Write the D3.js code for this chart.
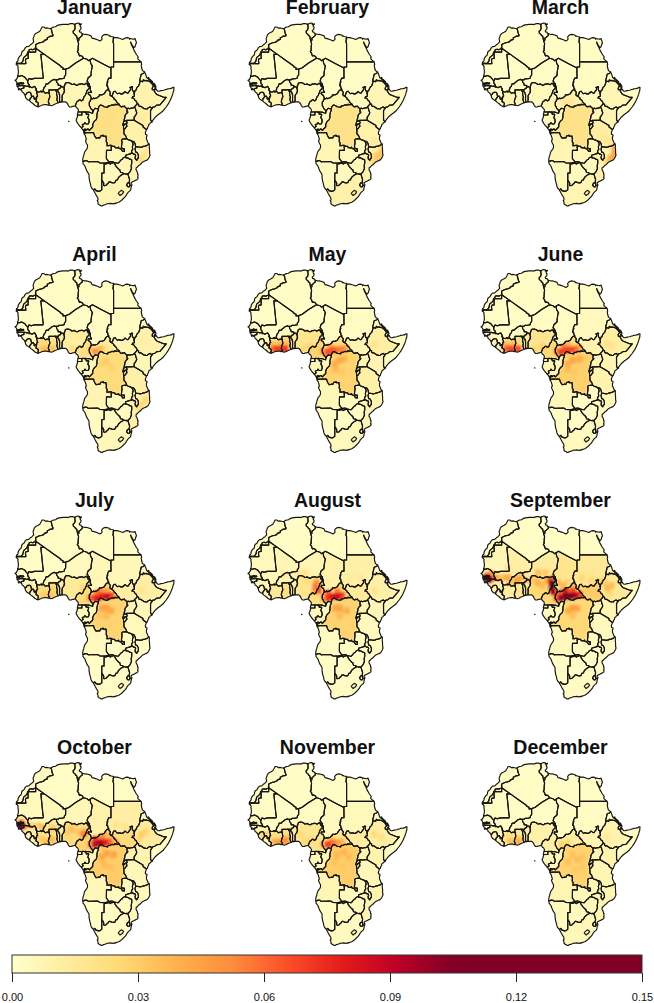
<!DOCTYPE html>
<html><head><meta charset="utf-8">
<script src="https://cdn.jsdelivr.net/npm/d3@7/dist/d3.min.js"></script>
<style>html,body{margin:0;padding:0;background:#fff;overflow:hidden}svg{display:block}</style>
</head><body><svg id="c" width="654" height="1003"></svg>
<script>
// ---------- country outlines (lon, lat) ----------
const algeria=[[12,23.47],[8.57,21.57],[5.68,19.6],[4.27,19.16],[3.16,19.06],[3.15,19.69],[2.68,19.86],[1.82,20.61],[-1.55,22.79],[-4.92,24.97],[-8.68,27.4],[-8.67,27.59],[-8.67,27.66],[-8.67,28.84],[-7.06,29.58],[-6.06,29.73],[-5.24,30],[-4.86,30.5],[-3.69,30.9],[-3.65,31.64],[-3.07,31.72],[-2.62,32.09],[-1.31,32.26],[-1.12,32.65],[-1.39,32.86],[-1.73,33.92],[-1.79,34.53],[-2.17,35.17],[-1.21,35.71],[-0.13,35.89],[0.5,36.3],[1.47,36.61],[3.16,36.78],[4.82,36.87],[5.32,36.72],[6.26,37.11],[7.33,37.12],[7.74,36.89],[8.42,36.95],[8.22,36.43],[8.38,35.48],[8.14,34.66],[7.52,34.1],[7.61,33.34],[8.43,32.75],[8.44,32.51],[9.06,32.1],[9.48,30.31],[9.81,29.42],[9.86,28.96],[9.68,28.14],[9.76,27.69],[9.63,27.14],[9.72,26.51],[9.32,26.09],[9.91,25.37],[9.95,24.94],[10.3,24.38],[10.77,24.56],[11.56,24.1],[12,23.47]];
const angola=[[16.33,-5.88],[16.57,-6.62],[16.86,-7.22],[17.09,-7.55],[17.47,-8.07],[18.13,-7.99],[18.46,-7.85],[19.02,-7.99],[19.17,-7.74],[19.42,-7.16],[20.04,-7.12],[20.09,-6.94],[20.6,-6.94],[20.51,-7.3],[21.73,-7.29],[21.75,-7.92],[21.95,-8.31],[21.8,-8.91],[21.88,-9.52],[22.21,-9.89],[22.16,-11.08],[22.4,-10.99],[22.84,-11.02],[23.46,-10.87],[23.91,-10.93],[24.02,-11.24],[23.9,-11.72],[24.08,-12.19],[23.93,-12.57],[24.02,-12.91],[21.93,-12.9],[21.89,-16.08],[22.56,-16.9],[23.22,-17.52],[21.38,-17.93],[18.96,-17.79],[18.26,-17.31],[14.21,-17.35],[14.06,-17.42],[13.46,-16.97],[12.81,-16.94],[12.22,-17.11],[11.73,-17.3],[11.64,-16.67],[11.78,-15.79],[12.12,-14.88],[12.18,-14.45],[12.5,-13.55],[12.74,-13.14],[13.31,-12.48],[13.63,-12.04],[13.74,-11.3],[13.69,-10.73],[13.39,-10.37],[13.12,-9.77],[12.88,-9.17],[12.93,-8.96],[13.24,-8.56],[12.93,-7.6],[12.73,-6.93],[12.23,-6.29],[12.32,-6.1],[12.74,-5.97],[13.02,-5.98],[13.38,-5.86],[16.33,-5.88]];
const cabinda=[[12.44,-5.68],[12.18,-5.79],[11.91,-5.04],[12.32,-4.61],[12.62,-4.44],[13,-4.78],[12.63,-4.99],[12.47,-5.25],[12.44,-5.68]];
const benin=[[2.69,6.26],[1.87,6.14],[1.62,6.83],[1.66,9.13],[1.46,9.33],[1.43,9.83],[1.08,10.18],[0.77,10.47],[0.9,11],[1.24,11.11],[1.45,11.55],[1.94,11.64],[2.15,11.94],[2.49,12.23],[2.85,12.24],[3.61,11.66],[3.57,11.33],[3.8,10.73],[3.6,10.33],[3.71,10.06],[3.22,9.44],[2.91,9.14],[2.72,8.51],[2.75,7.87],[2.69,6.26]];
const botswana=[[25.65,-18.54],[25.85,-18.71],[26.16,-19.29],[27.3,-20.39],[27.72,-20.5],[27.73,-20.85],[28.02,-21.49],[28.79,-21.64],[29.43,-22.09],[28.02,-22.83],[27.12,-23.57],[26.79,-24.24],[26.49,-24.62],[25.94,-24.7],[25.77,-25.17],[25.66,-25.49],[25.03,-25.72],[24.21,-25.67],[23.73,-25.39],[23.31,-25.27],[22.82,-25.5],[22.58,-25.98],[22.11,-26.28],[21.61,-26.73],[20.89,-26.83],[20.67,-26.48],[20.76,-25.87],[20.17,-24.92],[19.9,-24.77],[19.9,-21.85],[20.88,-21.81],[20.91,-18.25],[21.66,-18.22],[23.2,-17.87],[23.58,-18.28],[24.22,-17.89],[24.52,-17.89],[25.08,-17.66],[25.26,-17.74],[25.65,-18.54]];
const burkina=[[-2.83,9.64],[-3.51,9.9],[-3.98,9.86],[-4.33,9.61],[-4.78,9.82],[-4.95,10.15],[-5.4,10.37],[-5.47,10.95],[-5.2,11.38],[-5.22,11.71],[-4.43,12.54],[-4.28,13.23],[-4.01,13.47],[-3.52,13.34],[-3.1,13.54],[-2.97,13.8],[-2.19,14.25],[-2,14.56],[-1.07,14.97],[-0.52,15.12],[-0.27,14.92],[0.37,14.93],[0.3,14.44],[0.43,13.99],[0.99,13.34],[1.02,12.85],[2.18,12.63],[2.15,11.94],[1.94,11.64],[1.45,11.55],[1.24,11.11],[0.9,11],[0.02,11.02],[-0.44,11.1],[-0.76,10.94],[-1.2,11.01],[-2.94,10.96],[-2.96,10.4],[-2.83,9.64]];
const burundi=[[29.34,-4.5],[29.28,-3.29],[29.02,-2.84],[29.63,-2.92],[29.94,-2.35],[30.47,-2.41],[30.53,-2.81],[30.74,-3.03],[30.75,-3.36],[30.51,-3.57],[30.12,-4.09],[29.75,-4.45],[29.34,-4.5]];
const cameroon=[[14.5,12.86],[14.89,12.22],[14.96,11.56],[14.92,10.89],[15.47,9.98],[14.91,9.99],[14.63,9.92],[14.17,10.02],[13.95,9.55],[14.54,8.97],[14.98,8.8],[15.12,8.38],[15.44,7.69],[15.28,7.42],[14.78,6.41],[14.54,6.23],[14.46,5.45],[14.56,5.03],[14.48,4.73],[14.95,4.21],[15.04,3.85],[15.41,3.34],[15.86,3.01],[15.91,2.56],[16.01,2.27],[15.94,1.73],[15.15,1.96],[14.34,2.23],[13.08,2.27],[12.95,2.32],[12.36,2.19],[11.75,2.33],[11.28,2.26],[9.65,2.28],[9.8,3.07],[9.4,3.73],[8.95,3.9],[8.74,4.35],[8.49,4.5],[8.5,4.77],[8.76,5.48],[9.23,6.44],[9.52,6.45],[10.12,7.04],[10.5,7.06],[11.06,6.64],[11.75,6.98],[11.84,7.4],[12.06,7.8],[12.22,8.31],[12.75,8.72],[12.96,9.42],[13.17,9.64],[13.31,10.16],[13.57,10.8],[14.42,11.57],[14.47,11.9],[14.58,12.09],[14.18,12.48],[14.21,12.8],[14.5,12.86]];
const car=[[15.28,7.42],[16.11,7.5],[16.29,7.75],[16.46,7.73],[16.71,7.51],[17.96,7.89],[18.39,8.28],[18.91,8.63],[18.81,8.98],[19.09,9.07],[20.06,9.01],[21,9.48],[21.72,10.57],[22.23,10.97],[22.86,11.14],[22.98,10.71],[23.55,10.09],[23.56,9.68],[23.39,9.27],[23.46,8.95],[23.81,8.67],[24.57,8.23],[25.11,7.83],[25.12,7.5],[25.8,6.98],[26.21,6.55],[26.47,5.95],[27.21,5.55],[27.37,5.23],[27.04,5.13],[26.4,5.15],[25.65,5.26],[25.28,5.17],[25.13,4.93],[24.81,4.9],[24.41,5.11],[23.3,4.61],[22.84,4.71],[22.7,4.63],[22.41,4.03],[21.66,4.22],[20.93,4.32],[20.29,4.69],[19.47,5.03],[18.93,4.71],[18.54,4.2],[18.45,3.5],[17.81,3.56],[17.13,3.73],[16.54,3.2],[16.01,2.27],[15.91,2.56],[15.86,3.01],[15.41,3.34],[15.04,3.85],[14.95,4.21],[14.48,4.73],[14.56,5.03],[14.46,5.45],[14.54,6.23],[14.78,6.41],[15.28,7.42]];
const chad=[[14.5,12.86],[14.6,13.33],[13.95,13.35],[13.96,14],[13.54,14.37],[13.97,15.68],[15.25,16.63],[15.3,17.93],[15.69,19.96],[15.9,20.39],[15.49,20.73],[15.47,21.05],[15.1,21.31],[14.85,22.86],[15.86,23.41],[19.85,21.5],[23.84,19.58],[23.89,15.61],[23.02,15.68],[22.57,14.94],[22.3,14.33],[22.51,14.09],[22.18,13.79],[22.3,13.37],[22.04,12.96],[21.94,12.59],[22.29,12.65],[22.5,12.26],[22.51,11.68],[22.88,11.38],[22.86,11.14],[22.23,10.97],[21.72,10.57],[21,9.48],[20.06,9.01],[19.09,9.07],[18.81,8.98],[18.91,8.63],[18.39,8.28],[17.96,7.89],[16.71,7.51],[16.46,7.73],[16.29,7.75],[16.11,7.5],[15.28,7.42],[15.44,7.69],[15.12,8.38],[14.98,8.8],[14.54,8.97],[13.95,9.55],[14.17,10.02],[14.63,9.92],[14.91,9.99],[15.47,9.98],[14.92,10.89],[14.96,11.56],[14.89,12.22],[14.5,12.86]];
const congo=[[13,-4.78],[12.62,-4.44],[12.32,-4.61],[11.91,-5.04],[11.09,-3.98],[11.86,-3.43],[11.48,-2.77],[11.82,-2.51],[12.5,-2.39],[12.58,-1.95],[13.11,-2.43],[13.99,-2.47],[14.3,-2],[14.43,-1.33],[14.32,-0.55],[13.84,0.04],[14.28,1.2],[14.03,1.4],[13.28,1.31],[13,1.83],[13.08,2.27],[14.34,2.23],[15.15,1.96],[15.94,1.73],[16.01,2.27],[16.54,3.2],[17.13,3.73],[17.81,3.56],[18.45,3.5],[18.39,2.9],[18.09,2.37],[17.9,1.74],[17.77,0.86],[17.83,0.29],[17.66,-0.06],[17.64,-0.42],[17.52,-0.74],[16.87,-1.23],[16.41,-1.74],[15.97,-2.71],[16.01,-3.54],[15.75,-3.86],[15.17,-4.34],[14.58,-4.97],[14.21,-4.79],[14.14,-4.51],[13.6,-4.5],[13.26,-4.88],[13,-4.78]];
const drc=[[30.83,3.51],[30.77,2.34],[31.17,2.2],[30.85,1.85],[30.47,1.58],[30.09,1.06],[29.88,0.6],[29.82,-0.21],[29.59,-0.59],[29.58,-1.34],[29.29,-1.62],[29.25,-2.22],[29.12,-2.29],[29.02,-2.84],[29.28,-3.29],[29.34,-4.5],[29.52,-5.42],[29.42,-5.94],[29.62,-6.52],[30.2,-7.08],[30.74,-8.34],[30.35,-8.24],[29,-8.41],[28.73,-8.53],[28.45,-9.16],[28.67,-9.61],[28.5,-10.79],[28.37,-11.79],[28.64,-11.97],[29.34,-12.36],[29.62,-12.18],[29.7,-13.26],[28.93,-13.25],[28.52,-12.7],[28.16,-12.27],[27.39,-12.13],[27.16,-11.61],[26.55,-11.92],[25.75,-11.78],[25.42,-11.33],[24.78,-11.24],[24.31,-11.26],[24.26,-10.95],[23.91,-10.93],[23.46,-10.87],[22.84,-11.02],[22.4,-10.99],[22.16,-11.08],[22.21,-9.89],[21.88,-9.52],[21.8,-8.91],[21.95,-8.31],[21.75,-7.92],[21.73,-7.29],[20.51,-7.3],[20.6,-6.94],[20.09,-6.94],[20.04,-7.12],[19.42,-7.16],[19.17,-7.74],[19.02,-7.99],[18.46,-7.85],[18.13,-7.99],[17.47,-8.07],[17.09,-7.55],[16.86,-7.22],[16.57,-6.62],[16.33,-5.88],[13.38,-5.86],[13.02,-5.98],[12.74,-5.97],[12.32,-6.1],[12.18,-5.79],[12.44,-5.68],[12.47,-5.25],[12.63,-4.99],[13,-4.78],[13.26,-4.88],[13.6,-4.5],[14.14,-4.51],[14.21,-4.79],[14.58,-4.97],[15.17,-4.34],[15.75,-3.86],[16.01,-3.54],[15.97,-2.71],[16.41,-1.74],[16.87,-1.23],[17.52,-0.74],[17.64,-0.42],[17.66,-0.06],[17.83,0.29],[17.77,0.86],[17.9,1.74],[18.09,2.37],[18.39,2.9],[18.45,3.5],[18.54,4.2],[18.93,4.71],[19.47,5.03],[20.29,4.69],[20.93,4.32],[21.66,4.22],[22.41,4.03],[22.7,4.63],[22.84,4.71],[23.3,4.61],[24.41,5.11],[24.81,4.9],[25.13,4.93],[25.28,5.17],[25.65,5.26],[26.4,5.15],[27.04,5.13],[27.37,5.23],[27.98,4.41],[28.43,4.29],[28.7,4.46],[29.16,4.39],[29.72,4.6],[29.95,4.17],[30.83,3.51]];
const djibouti=[[43.08,12.7],[43.32,12.39],[43.29,11.97],[42.72,11.74],[43.15,11.46],[42.78,10.93],[42.55,11.11],[42.31,11.03],[41.76,11.05],[41.74,11.36],[41.66,11.63],[42,12.1],[42.35,12.54],[42.78,12.46],[43.08,12.7]];
const egypt=[[36.87,22],[32.9,22],[29.02,22],[25,22],[25,25.68],[25,29.24],[24.7,30.04],[24.96,30.66],[24.8,31.09],[25.16,31.57],[26.5,31.59],[27.46,31.32],[28.45,31.03],[28.91,30.87],[29.68,31.19],[30.1,31.47],[30.98,31.56],[31.69,31.43],[31.96,30.93],[32.19,31.26],[32.99,31.02],[33.77,30.97],[34.27,31.22],[34.92,29.5],[34.64,29.1],[34.43,28.34],[34.15,27.82],[33.92,27.65],[33.59,27.97],[33.14,28.42],[32.42,29.85],[32.32,29.76],[32.73,28.71],[33.35,27.7],[34.1,26.14],[34.47,25.6],[34.8,25.03],[35.69,23.93],[35.49,23.75],[35.53,23.1],[36.69,22.2],[36.87,22]];
const eqGuinea=[[9.49,1.01],[9.31,1.16],[9.65,2.28],[11.28,2.26],[11.29,1.06],[9.83,1.07],[9.49,1.01]];
const eritrea=[[42.35,12.54],[42.01,12.87],[41.6,13.45],[41.16,13.77],[40.9,14.12],[40.03,14.52],[39.34,14.53],[39.1,14.74],[38.51,14.51],[37.91,14.96],[37.59,14.21],[36.43,14.42],[36.32,14.82],[36.75,16.29],[36.85,16.96],[37.17,17.26],[37.9,17.43],[38.41,18],[38.99,16.84],[39.27,15.92],[39.81,15.44],[41.18,14.49],[41.73,13.92],[42.28,13.34],[42.59,13],[43.08,12.7],[42.78,12.46],[42.35,12.54]];
const ethiopia=[[47.79,8],[44.96,5],[43.66,4.96],[42.77,4.25],[42.13,4.23],[41.86,3.92],[41.17,3.92],[40.77,4.26],[39.85,3.84],[39.56,3.42],[38.89,3.5],[38.67,3.62],[38.44,3.59],[38.12,3.6],[36.86,4.45],[36.16,4.45],[35.82,4.78],[35.82,5.34],[35.3,5.51],[34.71,6.59],[34.25,6.83],[34.08,7.23],[33.57,7.71],[32.95,7.78],[33.29,8.35],[33.83,8.38],[33.97,8.68],[33.96,9.58],[34.26,10.63],[34.73,10.91],[34.83,11.32],[35.26,12.08],[35.86,12.58],[36.27,13.56],[36.43,14.42],[37.59,14.21],[37.91,14.96],[38.51,14.51],[39.1,14.74],[39.34,14.53],[40.03,14.52],[40.9,14.12],[41.16,13.77],[41.6,13.45],[42.01,12.87],[42.35,12.54],[42,12.1],[41.66,11.63],[41.74,11.36],[41.76,11.05],[42.31,11.03],[42.55,11.11],[42.78,10.93],[42.56,10.57],[42.93,10.02],[43.3,9.54],[43.68,9.18],[46.95,8],[47.79,8]];
const gabon=[[11.28,2.26],[11.75,2.33],[12.36,2.19],[12.95,2.32],[13.08,2.27],[13,1.83],[13.28,1.31],[14.03,1.4],[14.28,1.2],[13.84,0.04],[14.32,-0.55],[14.43,-1.33],[14.3,-2],[13.99,-2.47],[13.11,-2.43],[12.58,-1.95],[12.5,-2.39],[11.82,-2.51],[11.48,-2.77],[11.86,-3.43],[11.09,-3.98],[10.07,-2.97],[9.41,-2.14],[8.8,-1.11],[8.83,-0.78],[9.05,-0.46],[9.29,0.27],[9.49,1.01],[9.83,1.07],[11.29,1.06],[11.28,2.26]];
const gambia=[[-16.84,13.15],[-16.71,13.59],[-15.62,13.62],[-15.4,13.86],[-15.08,13.88],[-14.69,13.63],[-14.38,13.63],[-14.05,13.79],[-13.84,13.51],[-14.28,13.28],[-14.71,13.3],[-15.14,13.51],[-15.51,13.28],[-15.69,13.27],[-15.93,13.13],[-16.84,13.15]];
const ghana=[[1.06,5.93],[-0.51,5.34],[-1.06,5],[-1.96,4.71],[-2.86,4.99],[-2.81,5.39],[-3.24,6.25],[-2.98,7.38],[-2.56,8.22],[-2.83,9.64],[-2.96,10.4],[-2.94,10.96],[-1.2,11.01],[-0.76,10.94],[-0.44,11.1],[0.02,11.02],[-0.05,10.71],[0.37,10.19],[0.37,9.47],[0.46,8.68],[0.71,8.31],[0.49,7.41],[0.57,6.91],[0.84,6.28],[1.06,5.93]];
const guinea=[[-8.44,7.69],[-8.72,7.71],[-8.93,7.31],[-9.21,7.31],[-9.4,7.53],[-9.34,7.93],[-9.76,8.54],[-10.02,8.43],[-10.23,8.41],[-10.51,8.35],[-10.49,8.72],[-10.65,8.98],[-10.62,9.27],[-10.84,9.69],[-11.12,10.05],[-11.92,10.05],[-12.15,9.86],[-12.43,9.84],[-12.6,9.62],[-12.71,9.34],[-13.25,8.9],[-13.69,9.49],[-14.07,9.89],[-14.33,10.02],[-14.58,10.21],[-14.69,10.66],[-14.84,10.88],[-15.13,11.04],[-14.69,11.53],[-14.38,11.51],[-14.12,11.68],[-13.9,11.68],[-13.74,11.81],[-13.83,12.14],[-13.72,12.25],[-13.7,12.59],[-13.22,12.58],[-12.5,12.33],[-12.28,12.35],[-12.2,12.47],[-11.66,12.39],[-11.51,12.44],[-11.46,12.08],[-11.3,12.08],[-11.04,12.21],[-10.87,12.18],[-10.59,11.92],[-10.17,11.84],[-9.89,12.06],[-9.57,12.19],[-9.33,12.33],[-9.13,12.31],[-8.91,12.09],[-8.79,11.81],[-8.38,11.39],[-8.58,11.14],[-8.62,10.81],[-8.41,10.91],[-8.28,10.79],[-8.34,10.49],[-8.03,10.21],[-8.23,10.13],[-8.31,9.79],[-8.08,9.38],[-7.83,8.58],[-8.2,8.46],[-8.3,8.32],[-8.22,8.12],[-8.28,7.69],[-8.44,7.69]];
const guineaBissau=[[-15.13,11.04],[-15.66,11.46],[-16.09,11.52],[-16.31,11.81],[-16.31,11.96],[-16.61,12.17],[-16.68,12.38],[-16.15,12.55],[-15.82,12.52],[-15.55,12.63],[-13.7,12.59],[-13.72,12.25],[-13.83,12.14],[-13.74,11.81],[-13.9,11.68],[-14.12,11.68],[-14.38,11.51],[-14.69,11.53],[-15.13,11.04]];
const ivoryCoast=[[-2.86,4.99],[-3.31,4.98],[-4.01,5.18],[-4.65,5.17],[-5.83,4.99],[-6.53,4.71],[-7.52,4.34],[-7.71,4.36],[-7.64,5.19],[-7.54,5.31],[-7.57,5.71],[-7.99,6.13],[-8.31,6.19],[-8.6,6.47],[-8.39,6.91],[-8.49,7.4],[-8.44,7.69],[-8.28,7.69],[-8.22,8.12],[-8.3,8.32],[-8.2,8.46],[-7.83,8.58],[-8.08,9.38],[-8.31,9.79],[-8.23,10.13],[-8.03,10.21],[-7.9,10.3],[-7.62,10.15],[-6.85,10.14],[-6.67,10.43],[-6.49,10.41],[-6.21,10.52],[-6.05,10.1],[-5.82,10.22],[-5.4,10.37],[-4.95,10.15],[-4.78,9.82],[-4.33,9.61],[-3.98,9.86],[-3.51,9.9],[-2.83,9.64],[-2.56,8.22],[-2.98,7.38],[-3.24,6.25],[-2.81,5.39],[-2.86,4.99]];
const kenya=[[40.99,-0.86],[41.59,-1.68],[40.88,-2.08],[40.64,-2.5],[40.26,-2.57],[40.12,-3.28],[39.8,-3.68],[39.6,-4.35],[39.2,-4.68],[37.77,-3.68],[37.7,-3.1],[34.07,-1.06],[33.9,-0.95],[33.89,0.11],[34.18,0.52],[34.67,1.18],[35.04,1.91],[34.6,3.05],[34.48,3.56],[34,4.25],[34.62,4.85],[35.3,5.51],[35.82,5.34],[35.82,4.78],[36.16,4.45],[36.86,4.45],[38.12,3.6],[38.44,3.59],[38.67,3.62],[38.89,3.5],[39.56,3.42],[39.85,3.84],[40.77,4.26],[41.17,3.92],[41.86,3.92],[40.98,2.78],[40.99,-0.86]];
const lesotho=[[28.98,-28.96],[29.33,-29.26],[29.02,-29.74],[28.85,-30.07],[28.29,-30.23],[28.11,-30.55],[27.75,-30.65],[27,-29.88],[27.53,-29.24],[28.07,-28.85],[28.54,-28.65],[28.98,-28.96]];
const liberia=[[-8.44,7.69],[-8.49,7.4],[-8.39,6.91],[-8.6,6.47],[-8.31,6.19],[-7.99,6.13],[-7.57,5.71],[-7.54,5.31],[-7.64,5.19],[-7.71,4.36],[-7.97,4.36],[-9,4.83],[-9.91,5.59],[-10.77,6.14],[-11.44,6.79],[-11.2,7.11],[-11.15,7.4],[-10.7,7.94],[-10.23,8.41],[-10.02,8.43],[-9.76,8.54],[-9.34,7.93],[-9.4,7.53],[-9.21,7.31],[-8.93,7.31],[-8.72,7.71],[-8.44,7.69]];
const libya=[[14.85,22.86],[14.14,22.49],[13.58,23.04],[12,23.47],[11.56,24.1],[10.77,24.56],[10.3,24.38],[9.95,24.94],[9.91,25.37],[9.32,26.09],[9.72,26.51],[9.63,27.14],[9.76,27.69],[9.68,28.14],[9.86,28.96],[9.81,29.42],[9.48,30.31],[9.97,30.54],[10.06,30.96],[9.95,31.38],[10.64,31.76],[10.94,32.08],[11.43,32.37],[11.49,33.14],[12.66,32.79],[13.08,32.88],[13.92,32.71],[15.25,32.27],[15.71,31.38],[16.61,31.18],[18.02,30.76],[19.09,30.27],[19.57,30.53],[20.05,30.99],[19.82,31.75],[20.13,32.24],[20.85,32.71],[21.54,32.84],[22.9,32.64],[23.24,32.19],[23.61,32.19],[23.93,32.02],[24.92,31.9],[25.16,31.57],[24.8,31.09],[24.96,30.66],[24.7,30.04],[25,29.24],[25,25.68],[25,22],[25,20],[23.85,20],[23.84,19.58],[19.85,21.5],[15.86,23.41],[14.85,22.86]];
const malawi=[[34.56,-11.52],[34.28,-12.28],[34.56,-13.58],[34.91,-13.57],[35.27,-13.89],[35.69,-14.61],[35.77,-15.9],[35.34,-16.11],[35.03,-16.8],[34.38,-16.18],[34.31,-15.48],[34.52,-15.01],[34.46,-14.61],[34.06,-14.36],[33.79,-14.45],[33.21,-13.97],[32.69,-13.71],[32.99,-12.78],[33.31,-12.44],[33.11,-11.61],[33.32,-10.8],[33.49,-10.53],[33.23,-9.68],[32.76,-9.23],[33.74,-9.42],[33.94,-9.69],[34.28,-10.16],[34.56,-11.52]];
const mali=[[-12.17,14.62],[-11.83,14.8],[-11.67,15.39],[-11.35,15.41],[-10.65,15.13],[-10.09,15.33],[-9.7,15.26],[-9.55,15.49],[-5.54,15.5],[-5.32,16.2],[-5.49,16.33],[-5.97,20.64],[-6.45,24.96],[-4.92,24.97],[-1.55,22.79],[1.82,20.61],[2.06,20.14],[2.68,19.86],[3.15,19.69],[3.16,19.06],[4.27,19.16],[4.27,16.85],[3.72,16.18],[3.64,15.57],[2.75,15.41],[1.39,15.32],[1.02,14.97],[0.37,14.93],[-0.27,14.92],[-0.52,15.12],[-1.07,14.97],[-2,14.56],[-2.19,14.25],[-2.97,13.8],[-3.1,13.54],[-3.52,13.34],[-4.01,13.47],[-4.28,13.23],[-4.43,12.54],[-5.22,11.71],[-5.2,11.38],[-5.47,10.95],[-5.4,10.37],[-5.82,10.22],[-6.05,10.1],[-6.21,10.52],[-6.49,10.41],[-6.67,10.43],[-6.85,10.14],[-7.62,10.15],[-7.9,10.3],[-8.03,10.21],[-8.34,10.49],[-8.28,10.79],[-8.41,10.91],[-8.62,10.81],[-8.58,11.14],[-8.38,11.39],[-8.79,11.81],[-8.91,12.09],[-9.13,12.31],[-9.33,12.33],[-9.57,12.19],[-9.89,12.06],[-10.17,11.84],[-10.59,11.92],[-10.87,12.18],[-11.04,12.21],[-11.3,12.08],[-11.46,12.08],[-11.51,12.44],[-11.47,12.75],[-11.55,13.14],[-11.93,13.42],[-12.12,13.99],[-12.17,14.62]];
const mauritania=[[-12.17,14.62],[-12.83,15.3],[-13.44,16.04],[-14.1,16.3],[-14.58,16.6],[-15.14,16.59],[-15.62,16.37],[-16.12,16.46],[-16.46,16.14],[-16.55,16.67],[-16.27,17.17],[-16.15,18.11],[-16.26,19.1],[-16.38,19.59],[-16.28,20.09],[-16.54,20.57],[-17.06,21],[-16.85,21.33],[-12.93,21.33],[-13.12,22.77],[-12.87,23.28],[-11.94,23.37],[-11.97,25.93],[-8.69,25.88],[-8.68,27.4],[-4.92,24.97],[-6.45,24.96],[-5.97,20.64],[-5.49,16.33],[-5.32,16.2],[-5.54,15.5],[-9.55,15.49],[-9.7,15.26],[-10.09,15.33],[-10.65,15.13],[-11.35,15.41],[-11.67,15.39],[-11.83,14.8],[-12.17,14.62]];
const morocco=[[-5.19,35.76],[-4.59,35.33],[-3.64,35.4],[-2.6,35.18],[-2.17,35.17],[-1.79,34.53],[-1.73,33.92],[-1.39,32.86],[-1.12,32.65],[-1.31,32.26],[-2.62,32.09],[-3.07,31.72],[-3.65,31.64],[-3.69,30.9],[-4.86,30.5],[-5.24,30],[-6.06,29.73],[-7.06,29.58],[-8.67,28.84],[-8.67,27.66],[-8.82,27.66],[-8.79,27.12],[-9.41,27.09],[-9.74,26.86],[-10.19,26.86],[-10.55,26.99],[-11.39,26.88],[-11.72,26.1],[-12.03,26.03],[-12.5,24.77],[-13.89,23.69],[-14.22,22.31],[-14.63,21.86],[-14.75,21.5],[-17,21.42],[-17.02,21.42],[-16.97,21.89],[-16.59,22.16],[-16.26,22.68],[-16.33,23.02],[-15.98,23.72],[-15.43,24.36],[-15.09,24.52],[-14.82,25.1],[-14.8,25.64],[-14.44,26.25],[-13.77,26.62],[-13.14,27.64],[-12.62,28.04],[-11.69,28.15],[-10.9,28.83],[-10.4,29.1],[-9.56,29.93],[-9.81,31.18],[-9.43,32.04],[-9.3,32.56],[-8.66,33.24],[-7.65,33.7],[-6.91,34.11],[-6.24,35.15],[-5.93,35.76],[-5.19,35.76]];
const mozambique=[[34.56,-11.52],[35.31,-11.44],[36.51,-11.72],[36.78,-11.59],[37.47,-11.57],[37.83,-11.27],[38.43,-11.29],[39.52,-10.9],[40.32,-10.32],[40.48,-10.77],[40.44,-11.76],[40.56,-12.64],[40.6,-14.2],[40.78,-14.69],[40.48,-15.41],[40.09,-16.1],[39.45,-16.72],[38.54,-17.1],[37.41,-17.59],[36.28,-18.66],[35.9,-18.84],[35.2,-19.55],[34.79,-19.78],[34.7,-20.5],[35.18,-21.25],[35.37,-21.84],[35.39,-22.14],[35.56,-22.09],[35.53,-23.07],[35.37,-23.54],[35.61,-23.71],[35.46,-24.12],[35.04,-24.48],[34.22,-24.82],[33.01,-25.36],[32.57,-25.73],[32.66,-26.15],[32.92,-26.22],[32.83,-26.74],[32.07,-26.73],[31.99,-26.29],[31.84,-25.84],[31.75,-25.48],[31.93,-24.37],[31.67,-23.66],[31.19,-22.25],[32.24,-21.12],[32.51,-20.4],[32.66,-20.3],[32.77,-19.72],[32.61,-19.42],[32.65,-18.67],[32.85,-17.98],[32.85,-16.71],[32.33,-16.39],[31.85,-16.32],[31.64,-16.07],[31.17,-15.86],[30.34,-15.88],[30.27,-15.51],[30.18,-14.8],[33.21,-13.97],[33.79,-14.45],[34.06,-14.36],[34.46,-14.61],[34.52,-15.01],[34.31,-15.48],[34.38,-16.18],[35.03,-16.8],[35.34,-16.11],[35.77,-15.9],[35.69,-14.61],[35.27,-13.89],[34.91,-13.57],[34.56,-13.58],[34.28,-12.28],[34.56,-11.52]];
const namibia=[[16.34,-28.58],[15.6,-27.82],[15.21,-27.09],[14.99,-26.12],[14.74,-25.39],[14.41,-23.85],[14.39,-22.66],[14.26,-22.11],[13.87,-21.7],[13.35,-20.87],[12.83,-19.67],[12.61,-19.05],[11.79,-18.07],[11.73,-17.3],[12.22,-17.11],[12.81,-16.94],[13.46,-16.97],[14.06,-17.42],[14.21,-17.35],[18.26,-17.31],[18.96,-17.79],[21.38,-17.93],[23.22,-17.52],[24.03,-17.3],[24.68,-17.35],[25.08,-17.58],[25.08,-17.66],[24.52,-17.89],[24.22,-17.89],[23.58,-18.28],[23.2,-17.87],[21.66,-18.22],[20.91,-18.25],[20.88,-21.81],[19.9,-21.85],[19.9,-24.77],[19.89,-28.46],[19,-28.97],[18.46,-29.05],[17.84,-28.86],[17.39,-28.78],[17.22,-28.36],[16.82,-28.08],[16.34,-28.58]];
const niger=[[2.15,11.94],[2.18,12.63],[1.02,12.85],[0.99,13.34],[0.43,13.99],[0.3,14.44],[0.37,14.93],[1.02,14.97],[1.39,15.32],[2.75,15.41],[3.64,15.57],[3.72,16.18],[4.27,16.85],[4.27,19.16],[5.68,19.6],[8.57,21.57],[12,23.47],[13.58,23.04],[14.14,22.49],[14.85,22.86],[15.1,21.31],[15.47,21.05],[15.49,20.73],[15.9,20.39],[15.69,19.96],[15.3,17.93],[15.25,16.63],[13.97,15.68],[13.54,14.37],[13.96,14],[13.95,13.35],[14.6,13.33],[14.5,12.86],[14.21,12.8],[14.18,12.48],[14,12.46],[13.32,13.56],[13.08,13.6],[12.3,13.04],[11.53,13.33],[10.99,13.39],[10.7,13.25],[10.11,13.28],[9.52,12.85],[9.01,12.83],[7.8,13.34],[7.33,13.1],[6.82,13.12],[6.45,13.49],[5.44,13.87],[4.37,13.75],[4.11,13.53],[3.97,12.96],[3.68,12.55],[3.61,11.66],[2.85,12.24],[2.49,12.23],[2.15,11.94]];
const nigeria=[[8.5,4.77],[7.46,4.41],[7.08,4.46],[6.7,4.24],[5.9,4.26],[5.36,4.89],[5.03,5.61],[4.33,6.27],[3.57,6.26],[2.69,6.26],[2.75,7.87],[2.72,8.51],[2.91,9.14],[3.22,9.44],[3.71,10.06],[3.6,10.33],[3.8,10.73],[3.57,11.33],[3.61,11.66],[3.68,12.55],[3.97,12.96],[4.11,13.53],[4.37,13.75],[5.44,13.87],[6.45,13.49],[6.82,13.12],[7.33,13.1],[7.8,13.34],[9.01,12.83],[9.52,12.85],[10.11,13.28],[10.7,13.25],[10.99,13.39],[11.53,13.33],[12.3,13.04],[13.08,13.6],[13.32,13.56],[14,12.46],[14.18,12.48],[14.58,12.09],[14.47,11.9],[14.42,11.57],[13.57,10.8],[13.31,10.16],[13.17,9.64],[12.96,9.42],[12.75,8.72],[12.22,8.31],[12.06,7.8],[11.84,7.4],[11.75,6.98],[11.06,6.64],[10.5,7.06],[10.12,7.04],[9.52,6.45],[9.23,6.44],[8.76,5.48],[8.5,4.77]];
const rwanda=[[30.42,-1.13],[30.82,-1.7],[30.76,-2.29],[30.47,-2.41],[29.94,-2.35],[29.63,-2.92],[29.02,-2.84],[29.12,-2.29],[29.25,-2.22],[29.29,-1.62],[29.58,-1.34],[29.82,-1.44],[30.42,-1.13]];
const senegal=[[-16.71,13.59],[-17.13,14.37],[-17.63,14.73],[-17.19,14.92],[-16.7,15.62],[-16.46,16.14],[-16.12,16.46],[-15.62,16.37],[-15.14,16.59],[-14.58,16.6],[-14.1,16.3],[-13.44,16.04],[-12.83,15.3],[-12.17,14.62],[-12.12,13.99],[-11.93,13.42],[-11.55,13.14],[-11.47,12.75],[-11.51,12.44],[-11.66,12.39],[-12.2,12.47],[-12.28,12.35],[-12.5,12.33],[-13.22,12.58],[-13.7,12.59],[-15.55,12.63],[-15.82,12.52],[-16.15,12.55],[-16.68,12.38],[-16.84,13.15],[-15.93,13.13],[-15.69,13.27],[-15.51,13.28],[-15.14,13.51],[-14.71,13.3],[-14.28,13.28],[-13.84,13.51],[-14.05,13.79],[-14.38,13.63],[-14.69,13.63],[-15.08,13.88],[-15.4,13.86],[-15.62,13.62],[-16.71,13.59]];
const sierraLeone=[[-11.44,6.79],[-11.71,6.86],[-12.43,7.26],[-12.95,7.8],[-13.12,8.16],[-13.25,8.9],[-12.71,9.34],[-12.6,9.62],[-12.43,9.84],[-12.15,9.86],[-11.92,10.05],[-11.12,10.05],[-10.84,9.69],[-10.62,9.27],[-10.65,8.98],[-10.49,8.72],[-10.51,8.35],[-10.23,8.41],[-10.7,7.94],[-11.15,7.4],[-11.2,7.11],[-11.44,6.79]];
const somalia=[[41.59,-1.68],[40.99,-0.86],[40.98,2.78],[41.86,3.92],[42.13,4.23],[42.77,4.25],[43.66,4.96],[44.96,5],[47.79,8],[46.95,8],[43.68,9.18],[43.3,9.54],[42.93,10.02],[42.56,10.57],[42.78,10.93],[43.15,11.46],[43.47,11.28],[43.67,10.86],[44.12,10.45],[44.61,10.44],[45.56,10.7],[46.65,10.82],[47.53,11.13],[48.02,11.19],[48.38,11.38],[48.95,11.41],[49.27,11.43],[49.73,11.58],[50.26,11.68],[50.73,12.02],[51.11,12.02],[51.13,11.75],[51.04,11.17],[51.05,10.64],[50.83,10.28],[50.55,9.2],[50.07,8.08],[49.45,6.8],[48.59,5.34],[47.74,4.22],[46.56,2.86],[45.56,2.05],[44.07,1.05],[43.14,0.29],[42.04,-0.92],[41.81,-1.45],[41.59,-1.68]];
const southAfrica=[[31.52,-29.26],[31.33,-29.4],[30.9,-29.91],[30.62,-30.42],[30.06,-31.14],[28.93,-32.17],[28.22,-32.77],[27.46,-33.23],[26.42,-33.61],[25.91,-33.67],[25.78,-33.94],[25.17,-33.8],[24.68,-33.99],[23.59,-33.79],[22.99,-33.92],[22.57,-33.86],[21.54,-34.26],[20.69,-34.42],[20.07,-34.8],[19.62,-34.82],[19.19,-34.46],[18.86,-34.44],[18.42,-34],[18.38,-34.14],[18.24,-33.87],[18.25,-33.28],[17.93,-32.61],[18.25,-32.43],[18.22,-31.66],[17.57,-30.73],[17.06,-29.88],[16.34,-28.58],[16.82,-28.08],[17.22,-28.36],[17.39,-28.78],[17.84,-28.86],[18.46,-29.05],[19,-28.97],[19.89,-28.46],[19.9,-24.77],[20.17,-24.92],[20.76,-25.87],[20.67,-26.48],[20.89,-26.83],[21.61,-26.73],[22.11,-26.28],[22.58,-25.98],[22.82,-25.5],[23.31,-25.27],[23.73,-25.39],[24.21,-25.67],[25.03,-25.72],[25.66,-25.49],[25.77,-25.17],[25.94,-24.7],[26.49,-24.62],[26.79,-24.24],[27.12,-23.57],[28.02,-22.83],[29.43,-22.09],[29.84,-22.1],[30.32,-22.27],[30.66,-22.15],[31.19,-22.25],[31.67,-23.66],[31.93,-24.37],[31.75,-25.48],[31.84,-25.84],[31.33,-25.66],[31.04,-25.73],[30.95,-26.02],[30.68,-26.4],[30.69,-26.74],[31.28,-27.29],[31.87,-27.18],[32.07,-26.73],[32.83,-26.74],[32.58,-27.47],[32.46,-28.3],[32.2,-28.75],[31.52,-29.26]];
const southSudan=[[33.96,9.46],[33.82,9.48],[33.84,9.98],[33.72,10.33],[33.21,10.72],[33.09,11.44],[33.21,12.18],[32.74,12.25],[32.67,12.02],[32.07,11.97],[32.31,11.68],[32.4,11.08],[31.85,10.53],[31.35,9.81],[30.84,9.71],[30,10.29],[29.62,10.08],[29.52,9.79],[29,9.6],[28.97,9.4],[27.97,9.4],[27.83,9.6],[27.11,9.64],[26.75,9.47],[26.48,9.55],[25.96,10.14],[25.79,10.41],[25.07,10.27],[24.79,9.81],[24.54,8.92],[24.19,8.73],[23.89,8.62],[24.57,8.23],[25.11,7.83],[25.12,7.5],[25.8,6.98],[26.21,6.55],[26.47,5.95],[27.21,5.55],[27.37,5.23],[27.98,4.41],[28.43,4.29],[28.7,4.46],[29.16,4.39],[29.72,4.6],[29.95,4.17],[30.83,3.51],[31.25,3.78],[31.88,3.56],[32.69,3.79],[33.39,3.79],[34,4.25],[34.62,4.85],[35.3,5.51],[34.71,6.59],[34.25,6.83],[34.08,7.23],[33.57,7.71],[32.95,7.78],[33.29,8.35],[33.83,8.38],[33.97,8.68],[33.96,9.46]];
const sudan=[[36.87,22],[37.19,21.02],[36.97,20.84],[37.11,19.81],[37.48,18.61],[37.86,18.37],[38.41,18],[37.9,17.43],[37.17,17.26],[36.85,16.96],[36.75,16.29],[36.32,14.82],[36.43,14.42],[36.27,13.56],[35.86,12.58],[35.26,12.08],[34.83,11.32],[34.73,10.91],[34.26,10.63],[33.96,9.58],[33.96,9.46],[33.82,9.48],[33.84,9.98],[33.72,10.33],[33.21,10.72],[33.09,11.44],[33.21,12.18],[32.74,12.25],[32.67,12.02],[32.07,11.97],[32.31,11.68],[32.4,11.08],[31.85,10.53],[31.35,9.81],[30.84,9.71],[30,10.29],[29.62,10.08],[29.52,9.79],[29,9.6],[28.97,9.4],[27.97,9.4],[27.83,9.6],[27.11,9.64],[26.75,9.47],[26.48,9.55],[25.96,10.14],[25.79,10.41],[25.07,10.27],[24.79,9.81],[24.54,8.92],[24.19,8.73],[23.89,8.62],[23.81,8.67],[23.46,8.95],[23.39,9.27],[23.56,9.68],[23.55,10.09],[22.98,10.71],[22.86,11.14],[22.88,11.38],[22.51,11.68],[22.5,12.26],[22.29,12.65],[21.94,12.59],[22.04,12.96],[22.3,13.37],[22.18,13.79],[22.51,14.09],[22.3,14.33],[22.57,14.94],[23.02,15.68],[23.89,15.61],[23.84,19.58],[23.85,20],[25,20],[25,22],[29.02,22],[32.9,22],[36.87,22]];
const swaziland=[[32.07,-26.73],[31.87,-27.18],[31.28,-27.29],[30.69,-26.74],[30.68,-26.4],[30.95,-26.02],[31.04,-25.73],[31.33,-25.66],[31.84,-25.84],[31.99,-26.29],[32.07,-26.73]];
const tanzania=[[33.9,-0.95],[34.07,-1.06],[37.7,-3.1],[37.77,-3.68],[39.2,-4.68],[38.74,-5.91],[38.8,-6.48],[39.44,-6.84],[39.47,-7.1],[39.19,-7.7],[39.25,-8.01],[39.19,-8.49],[39.54,-9.11],[39.95,-10.1],[40.32,-10.32],[39.52,-10.9],[38.43,-11.29],[37.83,-11.27],[37.47,-11.57],[36.78,-11.59],[36.51,-11.72],[35.31,-11.44],[34.56,-11.52],[34.28,-10.16],[33.94,-9.69],[33.74,-9.42],[32.76,-9.23],[32.19,-8.93],[31.56,-8.76],[31.16,-8.59],[30.74,-8.34],[30.2,-7.08],[29.62,-6.52],[29.42,-5.94],[29.52,-5.42],[29.34,-4.5],[29.75,-4.45],[30.12,-4.09],[30.51,-3.57],[30.75,-3.36],[30.74,-3.03],[30.53,-2.81],[30.47,-2.41],[30.76,-2.29],[30.82,-1.7],[30.42,-1.13],[30.77,-1.01],[31.87,-1.03],[33.9,-0.95]];
const togo=[[1.87,6.14],[1.06,5.93],[0.84,6.28],[0.57,6.91],[0.49,7.41],[0.71,8.31],[0.46,8.68],[0.37,9.47],[0.37,10.19],[-0.05,10.71],[0.02,11.02],[0.9,11],[0.77,10.47],[1.08,10.18],[1.43,9.83],[1.46,9.33],[1.66,9.13],[1.62,6.83],[1.87,6.14]];
const tunisia=[[9.48,30.31],[9.06,32.1],[8.44,32.51],[8.43,32.75],[7.61,33.34],[7.52,34.1],[8.14,34.66],[8.38,35.48],[8.22,36.43],[8.42,36.95],[9.51,37.35],[10.21,37.23],[10.18,36.72],[11.03,37.09],[11.1,36.9],[10.6,36.41],[10.59,35.95],[10.94,35.7],[10.81,34.83],[10.15,34.33],[10.34,33.79],[10.86,33.77],[11.11,33.29],[11.49,33.14],[11.43,32.37],[10.94,32.08],[10.64,31.76],[9.95,31.38],[10.06,30.96],[9.97,30.54],[9.48,30.31]];
const uganda=[[33.9,-0.95],[31.87,-1.03],[30.77,-1.01],[30.42,-1.13],[29.82,-1.44],[29.58,-1.34],[29.59,-0.59],[29.82,-0.21],[29.88,0.6],[30.09,1.06],[30.47,1.58],[30.85,1.85],[31.17,2.2],[30.77,2.34],[30.83,3.51],[31.25,3.78],[31.88,3.56],[32.69,3.79],[33.39,3.79],[34,4.25],[34.48,3.56],[34.6,3.05],[35.04,1.91],[34.67,1.18],[34.18,0.52],[33.89,0.11],[33.9,-0.95]];
const westernSahara=[[-8.79,27.12],[-8.82,27.66],[-8.67,27.66],[-8.67,27.59],[-8.68,27.4],[-8.69,25.88],[-11.97,25.93],[-11.94,23.37],[-12.87,23.28],[-13.12,22.77],[-12.93,21.33],[-16.85,21.33],[-17.06,21],[-17.02,21.42],[-17,21.42],[-14.75,21.5],[-14.63,21.86],[-14.22,22.31],[-13.89,23.69],[-12.5,24.77],[-12.03,26.03],[-11.72,26.1],[-11.39,26.88],[-10.55,26.99],[-10.19,26.86],[-9.74,26.86],[-9.41,27.09],[-8.79,27.12]];
const zambia=[[32.76,-9.23],[33.23,-9.68],[33.49,-10.53],[33.32,-10.8],[33.11,-11.61],[33.31,-12.44],[32.99,-12.78],[32.69,-13.71],[33.21,-13.97],[30.18,-14.8],[30.27,-15.51],[29.52,-15.64],[28.95,-16.04],[28.83,-16.39],[28.47,-16.47],[27.6,-17.29],[27.04,-17.94],[26.71,-17.96],[26.38,-17.85],[25.26,-17.74],[25.08,-17.66],[25.08,-17.58],[24.68,-17.35],[24.03,-17.3],[23.22,-17.52],[22.56,-16.9],[21.89,-16.08],[21.93,-12.9],[24.02,-12.91],[23.93,-12.57],[24.08,-12.19],[23.9,-11.72],[24.02,-11.24],[23.91,-10.93],[24.26,-10.95],[24.31,-11.26],[24.78,-11.24],[25.42,-11.33],[25.75,-11.78],[26.55,-11.92],[27.16,-11.61],[27.39,-12.13],[28.16,-12.27],[28.52,-12.7],[28.93,-13.25],[29.7,-13.26],[29.62,-12.18],[29.34,-12.36],[28.64,-11.97],[28.37,-11.79],[28.5,-10.79],[28.67,-9.61],[28.45,-9.16],[28.73,-8.53],[29,-8.41],[30.35,-8.24],[30.74,-8.34],[31.16,-8.59],[31.56,-8.76],[32.19,-8.93],[32.76,-9.23]];
const zimbabwe=[[31.19,-22.25],[30.66,-22.15],[30.32,-22.27],[29.84,-22.1],[29.43,-22.09],[28.79,-21.64],[28.02,-21.49],[27.73,-20.85],[27.72,-20.5],[27.3,-20.39],[26.16,-19.29],[25.85,-18.71],[25.65,-18.54],[25.26,-17.74],[26.38,-17.85],[26.71,-17.96],[27.04,-17.94],[27.6,-17.29],[28.47,-16.47],[28.83,-16.39],[28.95,-16.04],[29.52,-15.64],[30.27,-15.51],[30.34,-15.88],[31.17,-15.86],[31.64,-16.07],[31.85,-16.32],[32.33,-16.39],[32.85,-16.71],[32.85,-17.98],[32.65,-18.67],[32.61,-19.42],[32.77,-19.72],[32.66,-20.3],[32.51,-20.4],[32.24,-21.12],[31.19,-22.25]];
// small islands that thicken the coast line
const dahlak=[[39.9,15.9],[40.3,15.75],[40.2,15.45],[39.9,15.55],[39.9,15.9]];
const dahlak2=[[41,14.9],[41.6,14.4],[41.9,14.1],[41.5,14.2],[41,14.9]];
const dahlak3=[[40.4,15.3],[40.9,15],[40.7,14.85],[40.4,15.3]];
const dahlak4=[[42.4,13.6],[42.9,13.1],[42.7,13],[42.4,13.6]];
const bijagos=[[-16.2,11.3],[-15.8,11.2],[-15.9,10.9],[-16.2,11.3]];
const annobon=[[5.55,-1.38],[5.7,-1.38],[5.7,-1.5],[5.55,-1.5],[5.55,-1.38]];

const outlines=[algeria,angola,benin,botswana,burkina,burundi,cameroon,car,chad,congo,drc,djibouti,egypt,eqGuinea,eritrea,ethiopia,gabon,gambia,ghana,guinea,guineaBissau,ivoryCoast,kenya,lesotho,liberia,libya,malawi,mali,mauritania,morocco,mozambique,namibia,niger,nigeria,rwanda,senegal,sierraLeone,somalia,southAfrica,southSudan,sudan,swaziland,tanzania,togo,tunisia,uganda,westernSahara,zambia,zimbabwe];
const islands=[dahlak,dahlak2,dahlak3,dahlak4,bijagos,cabinda,annobon];

// ---------- values (thousandths), same order as outlines ----------
const monthNames=["January","February","March","April","May","June","July","August","September","October","November","December"];
const janV=[3,8,8,4,4,9,9,10,3,5,21,3,2,5,4,9,5,4,13,5,4,15,12,4,5,2,8,2,2,4,9,5,2,7,7,3,5,3,8,5,2,5,10,9,3,7,2,6,7];
const febV=[2,7,5,4,3,7,6,7,2,4,20,3,2,5,3,7,5,3,9,4,3,10,8,4,4,2,7,2,2,4,10,4,2,5,7,3,4,3,10,4,2,5,10,6,3,6,2,5,6];
const marV=[2,8,5,4,2,7,7,11,2,4,20,3,2,5,3,7,5,2,8,3,2,9,7,4,3,2,7,2,2,4,10,5,2,5,8,2,3,3,8,4,3,5,12,6,3,6,2,6,5];
const aprV=[2,8,13,3,3,7,21,14,3,5,24,3,2,5,3,10,5,2,21,5,2,24,6,4,8,2,7,2,2,4,11,3,2,13,7,2,7,2,6,8,3,4,11,13,3,9,2,6,4];
const mayV=[2,6,15,2,3,7,28,25,3,6,28,3,2,7,3,12,7,2,25,4,2,26,8,4,11,2,7,2,2,4,8,2,2,18,7,2,6,2,5,8,3,3,11,15,2,7,2,4,3];
const junV=[2,6,13,2,3,7,26,26,3,6,29,3,2,7,3,13,7,2,23,4,2,26,8,4,11,2,5,2,2,3,5,2,3,18,7,2,6,2,4,9,4,2,9,13,2,7,2,3,2];
const julV=[2,4,13,2,5,6,24,28,6,5,28,3,2,5,3,12,5,3,26,5,3,24,6,3,7,2,4,2,2,3,3,2,4,15,7,3,5,2,3,12,6,2,5,14,2,7,2,3,2];
const augV=[2,3,11,2,8,5,22,28,10,5,28,3,2,4,3,11,4,5,22,6,5,16,6,3,6,2,3,7,5,3,3,2,8,18,7,6,6,2,3,15,11,2,4,13,2,7,3,3,2];
const sepV=[2,4,13,2,20,5,26,40,18,5,26,3,2,4,6,16,4,26,17,12,22,14,7,3,7,2,3,12,7,3,3,2,14,26,7,18,9,2,3,30,16,2,4,15,2,9,5,3,2];
const octV=[2,6,13,3,13,7,28,36,10,5,30,3,2,5,5,14,5,20,20,13,18,20,9,3,9,2,4,6,4,3,5,2,6,24,7,13,9,2,3,24,12,2,6,15,2,9,3,4,3];
const novV=[2,7,13,3,5,7,20,20,4,6,30,3,2,6,3,12,6,7,23,9,6,22,9,3,8,2,6,2,2,3,8,3,3,18,7,5,10,2,4,13,5,3,6,13,2,8,2,5,4];
const decV=[2,8,11,4,4,8,12,13,3,6,28,3,2,6,3,9,6,4,18,6,4,20,9,3,7,2,7,2,2,3,8,4,2,10,7,3,7,2,6,8,3,4,7,11,2,7,2,6,5];
const monthValues=[janV,febV,marV,aprV,mayV,junV,julV,augV,sepV,octV,novV,decV];
// localised hot cells: lon, lat, value (thousandths)
const janC=[[36,-16,20],[38,-15,20],[37,-17,21],[39.5,-13,15],[24,0,23],[22,-3,23]];
const febC=[[38,-15,28],[40,-14,33],[39,-16,32],[36.5,-17,26],[36,-15,18],[40,-12,20],[18,5,12],[37,-9,14]];
const marC=[[40,-13,42],[40,-15,44],[38.5,-16,38],[40,-11.5,28],[37,-17,28],[19,6,18],[21,6,16],[37,-9,17],[35,-7,15],[40,-2.5,10]];
const aprC=[[-5,5.8,36],[-3.5,6,32],[-1.5,6,32],[-6.5,6,26],[17,5,48],[19,6,36],[15,6,30],[21,6,26],[22,1,30],[24,-1,28],[20,0,28],[37,-16,24],[39,-14,26],[36,-17,22],[39,-10,14],[7,6,22],[10,6,20]];
const mayC=[[-6.5,6,60],[-5,6,70],[-4,6,62],[-2.5,6,66],[-1.5,6,72],[-3.5,7.8,38],[-7,7.5,36],[-1,8,36],[17,4.8,66],[19,5.6,64],[21,5.6,58],[23,5.9,54],[15,5,50],[25,6.3,40],[18,7,40],[20,0,40],[22,1.5,42],[24,2,38],[20,-2,36],[23,-3,32],[6,6,26],[9,7,28],[37,8,18]];
const junC=[[-6.5,6,62],[-5,6,66],[-4,6,60],[-2.5,6,60],[-1.5,6,66],[-3.5,7.8,36],[-7,7.5,36],[17,4.8,70],[19,5.6,68],[21,5.6,68],[23,5.9,60],[15,5,48],[25,6.3,42],[18,7,48],[20,7.5,38],[20,0,40],[22,1.5,44],[25,2,42],[20,-2,36],[23,-3,32],[6,6,26],[9,7,28],[37,8,20],[39,7,18]];
const julC=[[-6,6,28],[-4.5,6,30],[-2,6,32],[-1,8,28],[-11,9,20],[16,5,66],[18,4.8,78],[20,5.7,76],[22,5.6,84],[24,6,68],[18,7,60],[20,7.6,50],[22,7.6,46],[14.5,5,40],[20,1,44],[22,1,44],[24,0,42],[22,-2,36],[19,-2,32],[12,9,26],[37,8,18]];
const augC=[[11.5,9.5,55],[12,11,50],[13,8,62],[11,7.5,36],[8,12,24],[7,15,18],[4,15,16],[-2,14,14],[17,5,72],[19,5.6,80],[21,5.6,86],[23,6,70],[17,7,62],[21,7.4,56],[15,5,42],[20,1,42],[22,1,44],[25,0,40],[22,-2,36],[37,8,19],[31,13,16],[27,13,15]];
const sepC=[[-15.5,12.7,115],[-14.5,12.2,100],[-13.5,12.5,70],[-15,13.6,70],[-13,14.5,40],[-11,13,42],[-8,13,36],[-6,13,42],[-6,17,18],[-4,11,32],[-2,12,46],[-0.5,13,38],[2,12,30],[7,11,38],[9,10,36],[11,12,40],[5,12,32],[7,15,34],[10,15,30],[12,15,20],[13,9,100],[13,10.7,108],[13.6,7.5,95],[12.5,12,65],[18,10,36],[16,11,34],[20,11,26],[15,5,62],[17,5,96],[19,5.7,108],[21,5.7,106],[23,6,92],[25,6.3,70],[19,7.5,78],[22,7.7,68],[17,7.2,60],[22,1,46],[24,1,44],[20,0,40],[22,-2,34],[30,12,26],[26,13,26],[34,12,26],[30,15,18],[37,9,36],[39,10,34],[36,11,30],[38,7,26]];
const octC=[[-15.3,12.6,115],[-15.8,12.1,105],[-14,12.3,60],[-15,13.6,60],[-11,12.5,30],[-6,12,34],[-8,12.5,28],[-2,12,26],[-4,6,34],[-1.5,7,36],[-6,7,30],[-1,11,30],[7,11,34],[5,10,30],[10,10,32],[12,9,55],[13,10,42],[15,5,50],[17,5,88],[19,5.7,92],[21,5.7,82],[23,6,64],[17,7.2,70],[20,7.6,55],[26,6,40],[20,0,42],[22,1.5,44],[25,1,44],[21,-3,36],[24,-4,34],[30,12,19],[26,13,18],[37,9,30],[39,10,26],[36,7,24]];
const novC=[[-6,6,40],[-4,6,46],[-2.5,6,40],[-1.5,6.5,50],[-0.5,7,36],[-10,9,28],[-12,9,22],[7,6,26],[10,7,26],[5,9,24],[17,5,70],[19,5.7,56],[15,5,42],[21,5.7,46],[23,6,36],[18,7,36],[21,1,38],[24,2,38],[26,0,36],[20,-2,34],[23,-4,32],[37,9,24],[40,8,20]];
const decC=[[-5,6,34],[-3.5,6,30],[-1.5,6,40],[-0.5,7,28],[17,5,28],[20,6,24],[22,1,34],[24,-1,34],[20,-2,34],[26,-4,32],[23,-5,31],[26,0,33],[37,8,15]];
const monthCells=[janC,febC,marC,aprC,mayC,junC,julC,augC,sepC,octC,novC,decC];
const legendTicks=[0,0.03,0.06,0.09,0.12,0.15];
const rampStops=[0,0.013,0.026,0.039,0.0525,0.0656,0.0788,0.0919,0.105,0.15];
const rampColors=["#FFFFCC","#FFEDA0","#FED976","#FEB24C","#FD8D3C","#FC4E2A","#E31A1C","#BD0026","#800026","#800026"];

// ---------- scales ----------
const svg=d3.select("#c");
const x=d3.scaleLinear().domain([-17.63,51.13]).range([15,174]);
const y=d3.scaleLinear().domain([37.35,-34.82]).range([23,206]);
const colour=d3.scaleLinear().domain(rampStops).range(rampColors).clamp(true);
const path=d3.geoPath(d3.geoTransform({point(a,b){this.stream.point(x(a),y(b));}}));
const poly=c=>({type:"Polygon",coordinates:[c]});
const panelX=d3.scaleLinear().domain([0,1]).range([0,233]);
const panelY=d3.scaleLinear().domain([0,1]).range([0,246.5]);

const defs=svg.append("defs");
defs.append("clipPath").attr("id","land").selectAll("path").data(outlines.concat(islands)).join("path").attr("d",c=>path(poly(c)));
defs.append("filter").attr("id","soft").attr("x","-10%").attr("y","-10%").attr("width","120%").attr("height","120%")
  .append("feGaussianBlur").attr("stdDeviation",1.15);

monthNames.forEach((name,i)=>{
  const g=svg.append("g").attr("transform",`translate(${panelX(i%3)},${panelY(Math.floor(i/3))})`);
  g.append("text").attr("x",94.5).attr("y",14).attr("text-anchor","middle")
    .attr("font-family","'Liberation Sans',Arial,sans-serif").attr("font-weight","bold").attr("font-size",19.5).attr("fill","#111").text(name);
  const vals=monthValues[i];
  const heat=g.append("g").attr("clip-path","url(#land)").append("g").attr("filter","url(#soft)");
  heat.append("rect").attr("x",0).attr("y",15).attr("width",190).attr("height",200).attr("fill",colour(0.002));
  heat.selectAll("path").data(outlines).join("path").attr("d",c=>path(poly(c)))
    .attr("fill",(c,k)=>colour(vals[k]/1000)).attr("stroke",(c,k)=>colour(vals[k]/1000)).attr("stroke-width",0.4);
  const cellW=2.7;
  const cells=monthCells[i].slice().sort((a,b)=>a[2]-b[2]);
  heat.selectAll("rect.cell").data(cells).join("rect").attr("class","cell")
    .attr("x",d=>x(d[0]-cellW/2)).attr("y",d=>y(d[1]+cellW/2))
    .attr("width",d=>x(d[0]+cellW/2)-x(d[0]-cellW/2)).attr("height",d=>y(d[1]-cellW/2)-y(d[1]+cellW/2))
    .attr("fill",d=>colour(d[2]/1000));
  g.selectAll("path.border").data(outlines.concat(islands)).join("path").attr("class","border")
    .attr("d",c=>path(poly(c))).attr("fill","none").attr("stroke","#151515").attr("stroke-width",1.15).attr("stroke-linejoin","round");
});

// ---------- colour bar ----------
const barX=d3.scaleLinear().domain([0,0.15]).range([12,642]);
const bar=svg.append("g");
const barPixels=d3.range(12,642);
bar.selectAll("rect").data(barPixels).join("rect")
  .attr("x",d=>d).attr("y",955).attr("width",1).attr("height",18).attr("shape-rendering","crispEdges").attr("fill",d=>colour(barX.invert(d+0.5)));
bar.append("rect").attr("x",barX(0)).attr("y",955).attr("width",barX(0.15)-barX(0)).attr("height",18)
  .attr("fill","none").attr("stroke","#333").attr("stroke-width",1);
const axis=svg.append("g").attr("transform","translate(0,973)")
  .call(d3.axisBottom(barX).tickValues(legendTicks).tickFormat(d3.format(".2f")).tickSize(9).tickPadding(11).tickSizeOuter(0));
axis.select(".domain").remove();
axis.selectAll("line").attr("stroke","#222");
axis.selectAll("text").attr("font-family","'Liberation Sans',Arial,sans-serif").attr("font-size",11).attr("fill","#111");
</script></body></html>
